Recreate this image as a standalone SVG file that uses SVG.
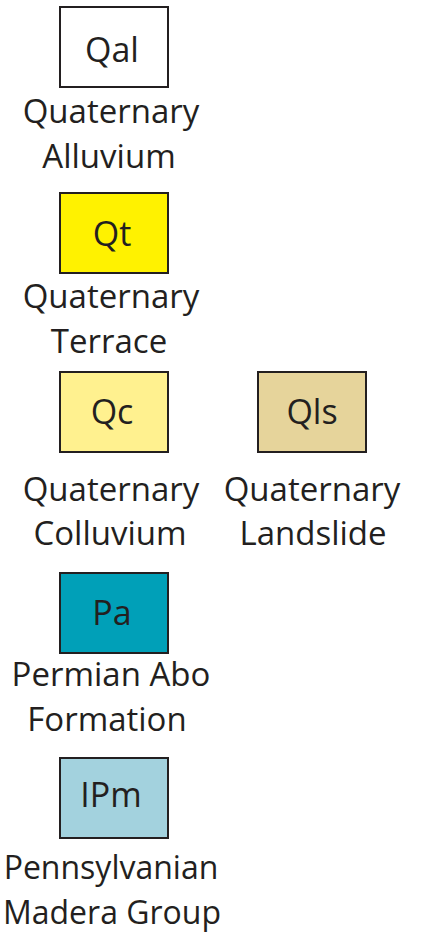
<svg xmlns="http://www.w3.org/2000/svg" width="421" height="932" viewBox="0 0 421 932">
<style>
.box{stroke:#231f20;stroke-width:2}
.t{font-family:"Open Sans","Liberation Sans",sans-serif;font-size:33px;fill:#231f20;text-anchor:middle}
.b{font-size:34px}
.s{font-size:32px}
</style>
<rect width="421" height="932" fill="#ffffff"/>
<g id="Qal">
<rect class="box" x="60" y="7" width="108" height="80" fill="#ffffff"/>
<text class="t b" x="112" y="62">Qal</text>
<text class="t" x="111" y="123">Quaternary</text>
<text class="t" x="109" y="168">Alluvium</text>
</g>
<g id="Qt">
<rect class="box" x="60" y="193" width="108" height="80" fill="#fff200"/>
<text class="t b" x="112" y="246">Qt</text>
<text class="t" x="111" y="308">Quaternary</text>
<text class="t" x="109" y="353">Terrace</text>
</g>
<g id="Qc">
<rect class="box" x="60" y="372" width="108" height="80" fill="#fff18f"/>
<text class="t b" x="112" y="424">Qc</text>
<text class="t" x="111" y="501">Quaternary</text>
<text class="t" x="110" y="545">Colluvium</text>
</g>
<g id="Qls">
<rect class="box" x="258" y="372" width="108" height="80" fill="#e6d49b"/>
<text class="t b" x="312" y="424">Qls</text>
<text class="t" x="312" y="501">Quaternary</text>
<text class="t" x="313" y="545">Landslide</text>
</g>
<g id="Pa">
<rect class="box" x="60" y="573" width="108" height="80" fill="#00a0b8"/>
<text class="t b" x="112" y="625">Pa</text>
<text class="t" x="111" y="686">Permian Abo</text>
<text class="t" x="107" y="731">Formation</text>
</g>
<g id="IPm">
<rect class="box" x="60" y="758" width="108" height="80" fill="#a3d2de"/>
<text class="t b" x="111" y="807">IPm</text>
<text class="t s" x="111" y="879">Pennsylvanian</text>
<text class="t s" x="112" y="924">Madera Group</text>
</g>
<g id="connectors"/>
</svg>
